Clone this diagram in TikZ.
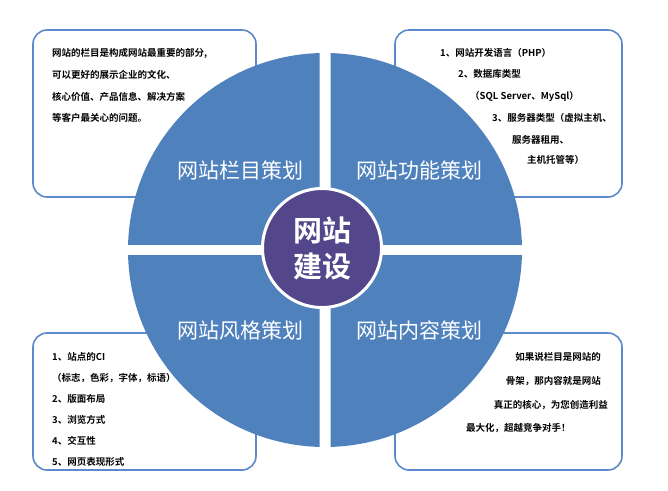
\documentclass[tikz,border=0pt]{standalone}
\usepackage{fontspec}
\newfontfamily\cjk{Noto Sans CJK SC}
\newfontfamily\cjkb{Noto Sans CJK SC Bold}
\definecolor{qblue}{HTML}{4F81BD}
\definecolor{bblue}{HTML}{5B8ACB}
\definecolor{cpurple}{HTML}{54468A}
\begin{document}
\begin{tikzpicture}[x=1pt,y=-1pt,
  box/.style={draw=bblue,line width=1.6pt,rounded corners=14pt,fill=white},
  qlab/.style={text=white,font=\cjk\fontsize{21}{21}\selectfont},
  txt/.style={font=\cjkb\fontsize{9.5}{10}\selectfont,inner sep=0pt}]
\useasboundingbox (0,0) rectangle (668,490);
\fill[white] (0,0) rectangle (668,490);
\draw[box] (33,30) rectangle (256,197);
\draw[box] (395,30) rectangle (622,197);
\draw[box] (33,333) rectangle (256,470);
\draw[box] (395,333) rectangle (622,470);
\def\cx{325}\def\cy{250}
\foreach \xa/\ya/\xb/\yb in {0/0/319.5/244.5, 330.5/0/668/244.5, 0/255.5/319.5/490, 330.5/255.5/668/490}{
  \begin{scope}
    \clip (\xa,\ya) rectangle (\xb,\yb);
    \fill[qblue] (\cx,\cy) circle [radius=197];
  \end{scope}}
\node[qlab] (q1) at (240,170) {网站栏目策划};
\node[qlab] (q2) at (419,170) {网站功能策划};
\node[qlab] (q3) at (240,330) {网站风格策划};
\node[qlab] (q4) at (419,330) {网站内容策划};
\node[circle,fill=cpurple,draw=white,line width=3pt,minimum size=119pt,inner sep=0pt,
  text=white,align=center,font=\cjkb\fontsize{29}{36}\selectfont] (c) at (322,248) {网站\\建设};
% top-left
\node[txt,anchor=west] (a1) at (52,53) {网站的栏目是构成网站最重要的部分,};
\node[txt,anchor=west] (a2) at (52,75) {可以更好的展示企业的文化、};
\node[txt,anchor=west] (a3) at (52,97) {核心价值、产品信息、解决方案};
\node[txt,anchor=west] (a4) at (52,118) {等客户最关心的问题。};
% top-right
\node[txt,anchor=west] (b1) at (440,53) {1、网站开发语言（PHP）};
\node[txt,anchor=west] (b2) at (458,74) {2、数据库类型};
\node[txt,anchor=west] (b3) at (470,96) {（SQL Server、MySql）};
\node[txt,anchor=west] (b4) at (492,118) {3、服务器类型（虚拟主机、};
\node[txt,anchor=west] (b5) at (512,140) {服务器租用、};
\node[txt,anchor=west] (b6) at (527,160) {主机托管等）};
% bottom-left
\node[txt,anchor=west] (d1) at (52,357) {1、站点的CI};
\node[txt,anchor=west] (d2) at (52,378) {（标志，色彩，字体，标语）};
\node[txt,anchor=west] (d3) at (52,399) {2、版面布局};
\node[txt,anchor=west] (d4) at (52,420) {3、浏览方式};
\node[txt,anchor=west] (d5) at (52,441) {4、交互性};
\node[txt,anchor=west] (d6) at (52,462) {5、网页表现形式};
% bottom-right
\node[txt,anchor=east] (e1) at (601,357) {如果说栏目是网站的};
\node[txt,anchor=east] (e2) at (601,381) {骨架，那内容就是网站};
\node[txt,anchor=east] (e3) at (608,405) {真正的核心，为您创造利益};
\node[txt,anchor=west] (e4) at (466,428) {最大化，超越竞争对手！};
\end{tikzpicture}
\end{document}
